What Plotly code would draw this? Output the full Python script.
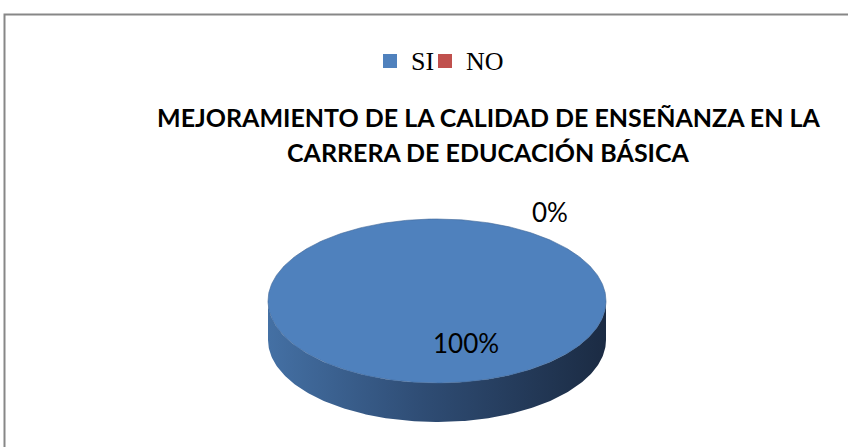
import numpy as np
import plotly.graph_objects as go

# ---- data ----
labels = ["SI", "NO"]
values = [100, 0]
colors = ["#4F81BD", "#C0504D"]
title_lines = ["MEJORAMIENTO DE LA CALIDAD DE ENSEÑANZA EN LA", "CARRERA DE EDUCACIÓN BÁSICA"]

# ---- geometry (pixel space) ----
W, H = 848, 447
cx, cy, rx, ry, depth = 437, 301, 169, 82, 39
side_scale = [[0, "#4470A4"], [0.45, "#2F4D75"], [1, "#1B2B43"]]
legend_x = [383, 438]   # left edge of each legend key
legend_y = 61

def pt(theta_deg, dy=0.0):
    t = np.radians(theta_deg)
    return cx + rx * np.sin(t), cy - ry * np.cos(t) + dy

fig = go.Figure()
total = sum(values)
start = 0.0
label_pos = {"SI": (466, 343), "NO": (550, 212)}
for lab, val, col in zip(labels, values, colors):
    frac = val / total
    end = start + 360 * frac
    if frac > 0:
        # side (front visible part: 90..270 degrees)
        a0, a1 = max(start, 90), min(end, 270)
        if a1 > a0:
            th = np.linspace(a0, a1, 200)
            xs_top, ys_top = pt(th)
            xs_bot, ys_bot = pt(th[::-1], depth)
            xs = np.concatenate([xs_top, xs_bot])
            ys = np.concatenate([ys_top, ys_bot])
            fig.add_trace(go.Scatter(x=xs, y=ys, fill="toself", mode="lines",
                                     line=dict(width=0), fillgradient=dict(type="horizontal", colorscale=side_scale),
                                     showlegend=False, hoverinfo="skip"))
        th = np.linspace(start, end, 400)
        xs, ys = pt(th)
        if frac < 1:
            xs = np.concatenate([[cx], xs, [cx]])
            ys = np.concatenate([[cy], ys, [cy]])
        fig.add_trace(go.Scatter(x=xs, y=ys, fill="toself", mode="lines",
                                 line=dict(width=0.6, color="#3F6797"), fillcolor=col,
                                 showlegend=False, hoverinfo="skip"))
    lx, ly = label_pos[lab]
    fig.add_annotation(x=lx, y=ly, text=f"{round(frac*100)}%", showarrow=False,
                       font=dict(family="Lato, Carlito, sans-serif", size=26, color="#000000"))
    start = end

# legend (keys + labels)
for lab, col, lx in zip(labels, colors, legend_x):
    fig.add_shape(type="rect", x0=lx, x1=lx + 14, y0=legend_y - 7, y1=legend_y + 7,
                  fillcolor=col, line=dict(width=0))
    fig.add_annotation(x=lx + 26, y=legend_y, text=lab, showarrow=False, xanchor="left",
                       font=dict(family="Liberation Serif, Times New Roman, serif", size=26, color="#000"))

for line, yy in zip(title_lines, [117, 152]):
    fig.add_annotation(x=488, y=yy, text="<b>" + line + "</b>", showarrow=False,
                       font=dict(family="Lato, Carlito, sans-serif", size=25, color="#000000"),
                       align="center")

fig.add_shape(type="rect", x0=4.5, y0=14.5, x1=W + 10, y1=H + 10,
              line=dict(color="#878787", width=2), layer="below")

fig.update_layout(
    width=W, height=H, margin=dict(l=0, r=0, t=0, b=0),
    paper_bgcolor="white", plot_bgcolor="white", showlegend=False,
    xaxis=dict(range=[0, W], visible=False, fixedrange=True),
    yaxis=dict(range=[H, 0], visible=False, fixedrange=True),
)
fig.write_html("out.html", config={"displayModeBar": False},
               post_script="document.body.style.margin='0';document.body.style.overflow='hidden';")
